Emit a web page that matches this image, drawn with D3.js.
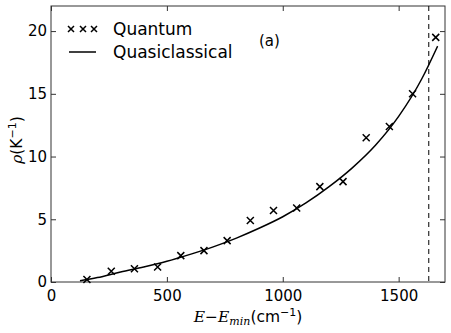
<!DOCTYPE html>
<html>
<head>
<meta charset="utf-8">
<script src="https://cdn.jsdelivr.net/npm/d3@7.9.0/dist/d3.min.js"></script>
<style>
  body { margin: 0; background: #fff; }
  svg { font-family: "DejaVu Sans", sans-serif; }
</style>
</head>
<body>
<svg id="chart" width="451" height="333"></svg>
<script>
// quantum points
const quantumE = [155, 260, 360, 460, 560, 660, 760, 860, 960, 1060, 1160, 1260, 1360, 1460, 1560, 1660];
const quantumRho = [0.2, 0.85, 1.05, 1.2, 2.1, 2.5, 3.3, 4.9, 5.7, 5.9, 7.6, 8.0, 11.5, 12.4, 15.0, 19.5];

// quasiclassical curve
const classE = [125, 200, 300, 400, 500, 600, 700, 800, 900, 1000, 1100, 1200, 1300, 1400, 1500, 1600, 1668];
const classRho = [0.1, 0.35, 0.8, 1.2, 1.65, 2.2, 2.8, 3.5, 4.3, 5.2, 6.3, 7.6, 9.1, 10.9, 13.2, 16.2, 18.8];

const xTicks = [0, 500, 1000, 1500];
const yTicks = [0, 5, 10, 15, 20];
const cutoffE = 1630;

const margin = { left: 51, right: 6, top: 6, bottom: 51 };
const W = 451, H = 333;
const svg = d3.select('#chart');

const x = d3.scaleLinear().domain([0, 1700]).range([margin.left, W - margin.right]);
const y = d3.scaleLinear().domain([0, 22]).range([H - margin.bottom, margin.top]);

const plotW = W - margin.right - margin.left;
const plotH = H - margin.bottom - margin.top;

// axes, ticks pointing inward on all four sides
const axisCol = '#333';
const gBottom = svg.append('g').attr('transform', `translate(0,${y(0)})`)
  .call(d3.axisBottom(x).tickValues(xTicks).tickSize(-5).tickPadding(8).tickFormat(d3.format('d')));
const gTop = svg.append('g').attr('transform', `translate(0,${margin.top})`)
  .call(d3.axisTop(x).tickValues(xTicks).tickSize(-5).tickFormat(''));
const gLeft = svg.append('g').attr('transform', `translate(${margin.left},0)`)
  .call(d3.axisLeft(y).tickValues(yTicks).tickSize(-5).tickPadding(4).tickFormat(d3.format('d')));
const gRight = svg.append('g').attr('transform', `translate(${W - margin.right},0)`)
  .call(d3.axisRight(y).tickValues(yTicks).tickSize(-5).tickFormat(''));

[gBottom, gTop, gLeft, gRight].forEach(g => {
  g.select('.domain').remove();
  g.selectAll('line').attr('stroke', axisCol);
  g.selectAll('text').attr('fill', '#000').attr('font-size', 15)
    .attr('font-family', '"DejaVu Sans", sans-serif');
});

svg.append('rect')
  .attr('x', margin.left).attr('y', margin.top)
  .attr('width', plotW).attr('height', plotH)
  .attr('fill', 'none').attr('stroke', axisCol).attr('stroke-width', 1);

// dashed cutoff
svg.append('line')
  .attr('x1', x(cutoffE)).attr('x2', x(cutoffE))
  .attr('y1', margin.top).attr('y2', y(0))
  .attr('stroke', '#000').attr('stroke-dasharray', '5,4').attr('stroke-width', 1);

// curve
const line = d3.line().x(d => x(d[0])).y(d => y(d[1])).curve(d3.curveMonotoneX);
svg.append('path')
  .attr('d', line(classE.map((e, i) => [e, classRho[i]])))
  .attr('fill', 'none').attr('stroke', '#000').attr('stroke-width', 1.5);

// crosses
const cross = (g, cx, cy, s) => {
  g.append('path')
    .attr('d', `M${cx - s},${cy - s}L${cx + s},${cy + s}M${cx - s},${cy + s}L${cx + s},${cy - s}`)
    .attr('stroke', '#000').attr('stroke-width', 1.5).attr('fill', 'none');
};
const marks = svg.append('g');
quantumE.forEach((e, i) => cross(marks, x(e), y(quantumRho[i]), 3.5));

// legend
const leg = svg.append('g');
[71, 83, 94].forEach(cx => cross(leg, cx, 29, 3));
leg.append('text').attr('x', 113).attr('y', 35).attr('font-size', 17).text('Quantum');
leg.append('line').attr('x1', 69).attr('x2', 96).attr('y1', 52).attr('y2', 52)
  .attr('stroke', '#000').attr('stroke-width', 1.5);
leg.append('text').attr('x', 113).attr('y', 58).attr('font-size', 17).text('Quasiclassical');

svg.append('text').attr('x', 259).attr('y', 46).attr('font-size', 15).text('(a)');

// axis labels
const xl = svg.append('text').attr('x', 248).attr('y', 322).attr('text-anchor', 'middle').attr('font-size', 15.5);
xl.append('tspan').attr('font-family', '"DejaVu Serif", serif').attr('font-style', 'italic').text('E');
xl.append('tspan').text('−');
xl.append('tspan').attr('font-family', '"DejaVu Serif", serif').attr('font-style', 'italic').text('E');
xl.append('tspan').attr('font-family', '"DejaVu Serif", serif').attr('font-style', 'italic')
  .attr('font-size', 11).attr('dy', 3).text('min');
xl.append('tspan').attr('dy', -3).text('(cm');
xl.append('tspan').attr('font-size', 11).attr('dy', -6).text('−1');
xl.append('tspan').attr('dy', 6).text(')');

const yl = svg.append('text')
  .attr('transform', `translate(22,140) rotate(-90)`)
  .attr('text-anchor', 'middle').attr('font-size', 15.5);
yl.append('tspan').attr('font-family', '"DejaVu Serif", serif').attr('font-style', 'italic').text('ρ');
yl.append('tspan').text('(K');
yl.append('tspan').attr('font-size', 11).attr('dy', -6).text('−1');
yl.append('tspan').attr('dy', 6).text(')');
</script>
</body>
</html>
